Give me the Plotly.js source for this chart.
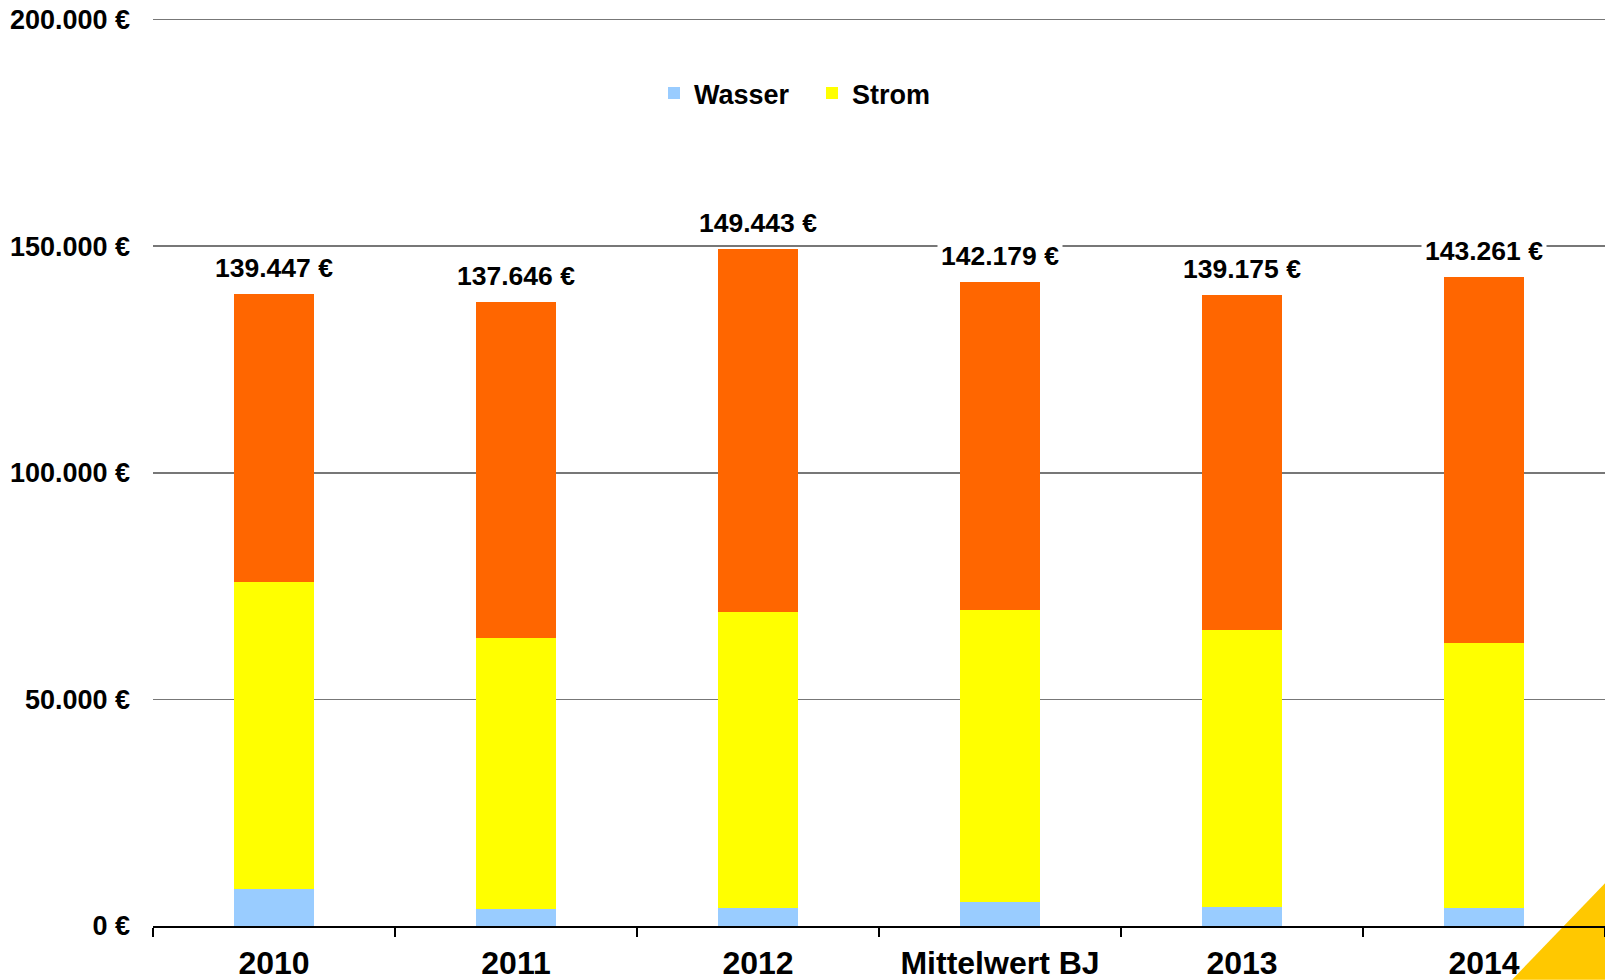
<!DOCTYPE html>
<html>
<head>
<meta charset="utf-8">
<script src="https://cdn.plot.ly/plotly-3.0.1.min.js"></script>
<style>html,body{margin:0;padding:0;background:#fff;}#chart{width:1605px;height:980px;}</style>
</head>
<body>
<div id="chart"></div>
<script>
// Data
var categories = ["2010", "2011", "2012", "Mittelwert BJ", "2013", "2014"];
var wasser = [8200, 3750, 4000, 5400, 4200, 3900];
var strom = [67700, 59850, 65200, 64300, 61000, 58600];
var totals = [139447, 137646, 149443, 142179, 139175, 143261];
var totalLabels = ["139.447 €", "137.646 €", "149.443 €", "142.179 €", "139.175 €", "143.261 €"];
var yTickVals = [0, 50000, 100000, 150000, 200000];
var yTickText = ["0 €", "50.000 €", "100.000 €", "150.000 €", "200.000 €"];

// third (orange) segment = total - wasser - strom
var rest = totals.map(function (t, i) { return t - wasser[i] - strom[i]; });

var FONT = "Liberation Sans, Arial, sans-serif";

var traces = [
  { type: "bar", name: "Wasser", x: categories, y: wasser, marker: { color: "#99CCFF" }, hoverinfo: "skip" },
  { type: "bar", name: "Strom", x: categories, y: strom, marker: { color: "#FFFF00" }, hoverinfo: "skip" },
  { type: "bar", name: "Wärme", x: categories, y: rest, marker: { color: "#FF6600" }, showlegend: false, hoverinfo: "skip" }
];

var annotations = categories.map(function (c, i) {
  return {
    x: i, y: totals[i], xref: "x", yref: "y",
    text: totalLabels[i], showarrow: false,
    yanchor: "bottom", yshift: 7,
    bgcolor: "#FFFFFF", borderpad: 3,
    font: { family: FONT, size: 26.5, color: "#000", weight: 700 }
  };
});

var M_T = 14.5, M_B = 54, M_L = 153;
var plotH = 980 - M_T - M_B;
var plotW = 1605 - M_L;

var layout = {
  width: 1605, height: 980,
  margin: { l: M_L, r: 0, t: M_T, b: M_B, pad: 0, autoexpand: false },
  paper_bgcolor: "#FFFFFF", plot_bgcolor: "#FFFFFF",
  barmode: "stack", bargap: 0.666,
  showlegend: true,
  legend: {
    orientation: "h", xref: "paper", x: (654 - M_L) / plotW, xanchor: "left",
    yref: "paper", y: (980 - M_B - 93) / plotH, yanchor: "middle",
    font: { family: FONT, size: 27, color: "#000", weight: 700 },
    traceorder: "normal", itemwidth: 30, entrywidth: 113, bgcolor: "rgba(0,0,0,0)"
  },
  xaxis: {
    type: "category",
    range: [-0.5, 5.5],
    showline: true, linecolor: "#000", linewidth: 2,
    ticks: "outside", tickson: "boundaries", ticklen: 9, tickcolor: "#000", tickwidth: 1.5,
    showgrid: false, zeroline: false,
    tickfont: { family: FONT, size: 32, color: "#000", weight: 700 },
    ticklabelstandoff: 8
  },
  yaxis: {
    range: [0, 201000], fixedrange: true,
    tickvals: yTickVals, ticktext: yTickText,
    showgrid: true, gridcolor: "#777777", gridwidth: 1.5,
    zeroline: false, showline: false, ticks: "",
    tickfont: { family: FONT, size: 27, color: "#000", weight: 700 },
    ticklabelstandoff: 22
  },
  annotations: annotations,
  shapes: [
    {
      type: "path", xref: "paper", yref: "paper", layer: "below",
      path: "M 0.936 -0.059 L 1.0 -0.059 L 1.0 0.047 Z",
      fillcolor: "#FFC800", line: { width: 0 }
    }
  ]
};

Plotly.newPlot("chart", traces, layout, { staticPlot: true, displayModeBar: false });
</script>
</body>
</html>
